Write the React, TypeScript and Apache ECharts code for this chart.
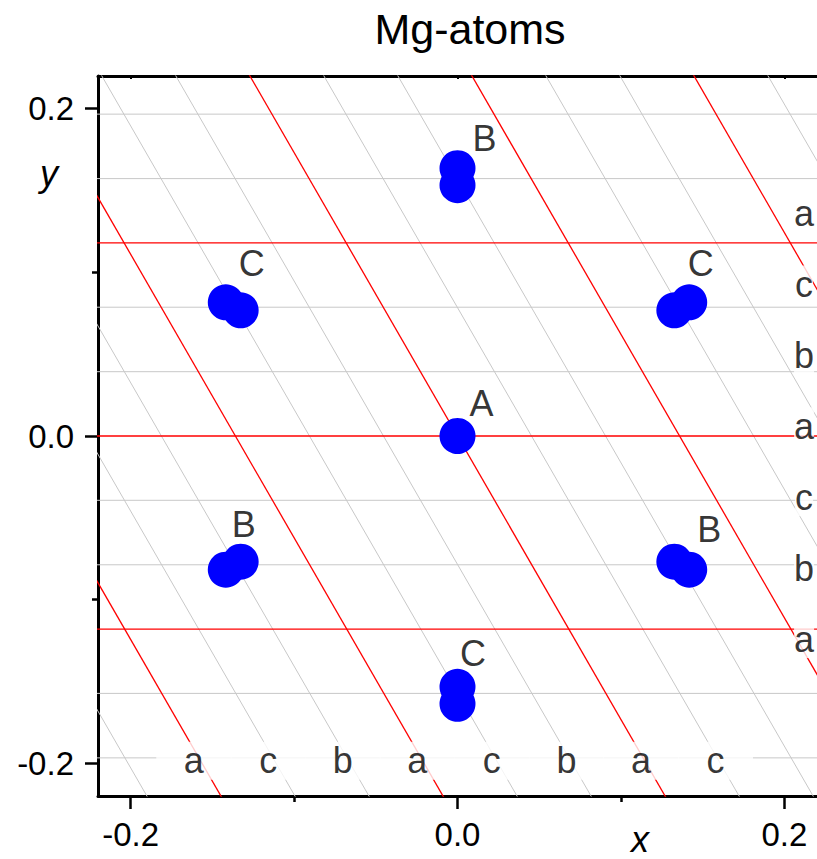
import React, { useEffect, useRef } from 'react';
import * as echarts from 'echarts';

const TITLE = 'Mg-atoms';
const X_NAME = 'x';
const Y_NAME = 'y';
const X_MIN = -0.22;
const X_MAX = 0.22;
const Y_MIN = -0.22;
const Y_MAX = 0.22;
const MAJOR_TICKS = [-0.2, 0, 0.2];
const MINOR_TICKS = [-0.1, 0.1];

// lattice planes (horizontal: y value; slanted 60°: x value where the plane crosses y = 0)
const horizontalPlanesY = [-0.1967, -0.1573, -0.118, -0.0787, -0.0393, 0, 0.0393, 0.0787, 0.118, 0.1573, 0.1967];
const horizontalPlaneMain = [0, 0, 1, 0, 0, 1, 0, 0, 1, 0, 0];
const slantedPlanesX0 = [-0.3171, -0.2718, -0.2265, -0.1812, -0.1359, -0.0906, -0.0453, 0, 0.0453, 0.0906, 0.1359, 0.1812, 0.2265, 0.2718, 0.3171];
const slantedPlaneMain = [0, 1, 0, 0, 1, 0, 0, 1, 0, 0, 1, 0, 0, 1, 0];
const SLANT_DEG = 60;

// Mg atom positions
const outerAtoms = [[0, 0.1637], [-0.1418, 0.0817], [0.1418, 0.0817], [-0.1418, -0.0817], [0.1418, -0.0817], [0, -0.1637]];
const innerAtoms = [[0, 0.1533], [-0.1327, 0.0768], [0.1327, 0.0768], [-0.1327, -0.0768], [0.1327, -0.0768], [0, -0.1533]];
const centerAtoms = [[0, 0]];

// site labels
const siteNames = ['B', 'C', 'C', 'A', 'B', 'B', 'C'];
const siteLabelX = [0.0165, -0.1259, 0.1489, 0.0147, -0.1308, 0.154, 0.0095];
const siteLabelY = [0.1817, 0.1056, 0.1056, 0.0196, -0.0539, -0.0569, -0.1328];

// stacking letters
const bottomLetters = ['a', 'c', 'b', 'a', 'c', 'b', 'a', 'c'];
const bottomLetterX = [-0.1614, -0.1158, -0.0702, -0.0246, 0.021, 0.0667, 0.1123, 0.1579];
const BOTTOM_LETTER_Y = -0.1985;
const rightLetters = ['a', 'c', 'b', 'a', 'c', 'b', 'a'];
const rightLetterY = [0.136, 0.0926, 0.0492, 0.0059, -0.0374, -0.0808, -0.1241];
const RIGHT_LETTER_X = 0.2121;

const FONT = '"Liberation Sans", Arial, Helvetica, sans-serif';
const GRAY = '#c8c8c8';
const RED = '#ff0000';
const BLUE = '#0000ff';
const REACH = 0.3;

function buildOption(): any {
  const series: any[] = [];
  const lineBase = {
    type: 'line',
    showSymbol: false,
    symbol: 'none',
    silent: true,
    clip: true,
    animation: false,
  };
  horizontalPlanesY.forEach((y, i) => {
    const main = horizontalPlaneMain[i] === 1;
    series.push({
      ...lineBase,
      z: main ? 2 : 1,
      lineStyle: { color: main ? RED : GRAY, width: main ? 1.3 : 1 },
      data: [[-REACH, y], [REACH, y]],
    });
  });
  const dx = REACH / Math.tan((SLANT_DEG * Math.PI) / 180);
  slantedPlanesX0.forEach((x0, i) => {
    const main = slantedPlaneMain[i] === 1;
    series.push({
      ...lineBase,
      z: main ? 2 : 1,
      lineStyle: { color: main ? RED : GRAY, width: main ? 1.3 : 1 },
      data: [[x0 - dx, REACH], [x0 + dx, -REACH]],
    });
  });
  const atomBase = {
    type: 'scatter',
    symbol: 'circle',
    symbolSize: 36,
    itemStyle: { color: BLUE, opacity: 1 },
    silent: true,
    z: 3,
  };
  series.push({ ...atomBase, name: 'outer', data: outerAtoms });
  series.push({ ...atomBase, name: 'inner', data: innerAtoms });
  series.push({ ...atomBase, name: 'center', data: centerAtoms });

  const labelBase = {
    type: 'scatter',
    symbol: 'circle',
    symbolSize: 1,
    itemStyle: { color: 'rgba(0,0,0,0)' },
    silent: true,
    z: 5,
  };
  series.push({
    ...labelBase,
    data: siteNames.map((n, i) => ({ name: n, value: [siteLabelX[i], siteLabelY[i]] })),
    label: {
      show: true,
      position: 'inside',
      formatter: (p: any) => p.name,
      fontSize: 36,
      fontFamily: FONT,
      color: '#000',
      align: 'center',
      verticalAlign: 'middle',
    },
  });
  series.push({
    ...labelBase,
    data: bottomLetters.map((n, i) => ({ name: n, value: [bottomLetterX[i], BOTTOM_LETTER_Y] })),
    label: {
      show: true,
      position: 'inside',
      formatter: (p: any) => p.name,
      fontSize: 36,
      fontFamily: FONT,
      color: '#000',
      align: 'center',
      verticalAlign: 'middle',
      backgroundColor: '#fff',
      width: 75,
      height: 38,
      lineHeight: 38,
      padding: 0,
    },
  });
  series.push({
    ...labelBase,
    data: rightLetters.map((n, i) => ({ name: n, value: [RIGHT_LETTER_X, rightLetterY[i]] })),
    label: {
      show: true,
      position: 'inside',
      formatter: (p: any) => p.name,
      fontSize: 36,
      fontFamily: FONT,
      color: '#000',
      align: 'center',
      verticalAlign: 'middle',
      backgroundColor: '#fff',
      lineHeight: 38,
      padding: 0,
    },
  });

  const axisLine = { show: true, onZero: false, lineStyle: { color: '#000', width: 3 } };
  const labelStyle = { fontSize: 33, fontFamily: FONT, color: '#000' };

  return {
    animation: false,
    backgroundColor: '#fff',
    grid: { left: 98, top: 76, width: 720, height: 720, containLabel: false },
    graphic: [
      { type: 'text', x: 470, y: 29, style: { text: TITLE, fontSize: 43, fontFamily: FONT, fill: '#000', textAlign: 'center', textVerticalAlign: 'middle' } },
      { type: 'text', x: 49, y: 173, style: { text: Y_NAME, fontSize: 36, fontStyle: 'italic', fontFamily: FONT, fill: '#000', textAlign: 'center', textVerticalAlign: 'middle' } },
      { type: 'text', x: 640, y: 839, style: { text: X_NAME, fontSize: 36, fontStyle: 'italic', fontFamily: FONT, fill: '#000', textAlign: 'center', textVerticalAlign: 'middle' } },
    ],
    xAxis: [
      {
        type: 'value', min: X_MIN, max: X_MAX, position: 'bottom',
        axisLine,
        axisTick: { show: true, customValues: MAJOR_TICKS, length: 13, lineStyle: { color: '#000', width: 2.5 } },
        axisLabel: { show: true, customValues: MAJOR_TICKS, margin: 22, formatter: (v: number) => v.toFixed(1), ...labelStyle },
        splitLine: { show: false },
      },
      {
        type: 'value', min: X_MIN, max: X_MAX, position: 'bottom',
        axisLine: { show: false, onZero: false },
        axisTick: { show: true, customValues: MINOR_TICKS, length: 6, lineStyle: { color: '#000', width: 2.5 } },
        axisLabel: { show: false },
        splitLine: { show: false },
      },
      {
        type: 'value', min: X_MIN, max: X_MAX, position: 'top',
        axisLine,
        axisTick: { show: true, inside: true, customValues: MAJOR_TICKS, length: 3, lineStyle: { color: '#000', width: 2 } },
        axisLabel: { show: false },
        splitLine: { show: false },
      },
    ],
    yAxis: [
      {
        type: 'value', min: Y_MIN, max: Y_MAX, position: 'left',
        axisLine,
        axisTick: { show: true, customValues: MAJOR_TICKS, length: 13, lineStyle: { color: '#000', width: 2.5 } },
        axisLabel: { show: true, customValues: MAJOR_TICKS, margin: 24, formatter: (v: number) => v.toFixed(1), ...labelStyle },
        splitLine: { show: false },
      },
      {
        type: 'value', min: Y_MIN, max: Y_MAX, position: 'left',
        axisLine: { show: false, onZero: false },
        axisTick: { show: true, customValues: MINOR_TICKS, length: 6, lineStyle: { color: '#000', width: 2.5 } },
        axisLabel: { show: false },
        splitLine: { show: false },
      },
    ],
    series,
  };
}

export default function App() {
  const ref = useRef<HTMLDivElement>(null);
  useEffect(() => {
    if (!ref.current) return;
    const chart = echarts.init(ref.current, undefined, { renderer: 'svg' });
    chart.setOption(buildOption());
    return () => chart.dispose();
  }, []);
  return (
    <div
      ref={ref}
      style={{ position: 'absolute', left: 0, top: 0, width: 817, height: 859, background: '#fff' }}
    />
  );
}
